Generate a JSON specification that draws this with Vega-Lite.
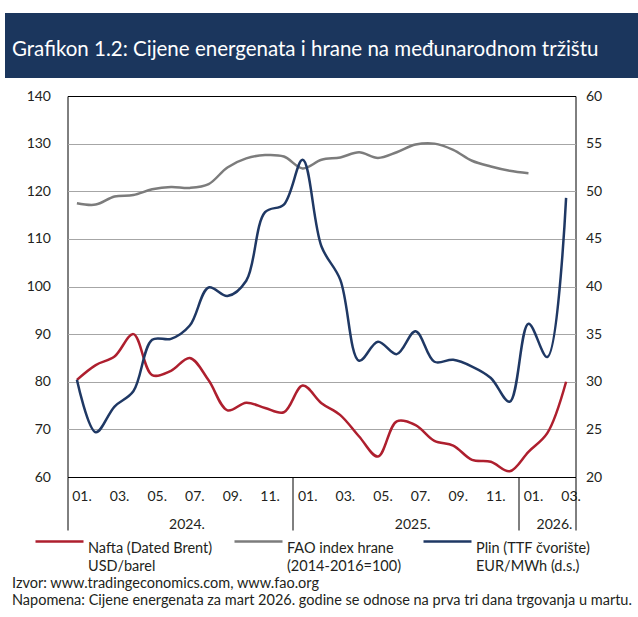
{
  "$schema": "https://vega.github.io/schema/vega-lite/v6.json",
  "padding": {"left": 5, "top": 13, "right": 0, "bottom": 4},
  "background": "white",
  "config": {"font": "Lato", "view": {"stroke": null}},
  "title": {
    "text": ["Izvor: www.tradingeconomics.com, www.fao.org", "Napomena: Cijene energenata za mart 2026. godine se odnose na prva tri dana trgovanja u martu."],
    "orient": "bottom", "anchor": "start", "fontSize": 14.5, "fontWeight": "normal", "color": "#231f20", "lineHeight": 17, "dx": 7, "offset": 4, "font": "Lato"
  },
  "datasets": {
    "series": [
      {"m": "2024-01", "s": "Nafta (Dated Brent)", "v": 80.4},
      {"m": "2024-02", "s": "Nafta (Dated Brent)", "v": 83.5},
      {"m": "2024-03", "s": "Nafta (Dated Brent)", "v": 85.3},
      {"m": "2024-04", "s": "Nafta (Dated Brent)", "v": 90.0},
      {"m": "2024-05", "s": "Nafta (Dated Brent)", "v": 81.4},
      {"m": "2024-06", "s": "Nafta (Dated Brent)", "v": 82.3},
      {"m": "2024-07", "s": "Nafta (Dated Brent)", "v": 85.0},
      {"m": "2024-08", "s": "Nafta (Dated Brent)", "v": 80.3},
      {"m": "2024-09", "s": "Nafta (Dated Brent)", "v": 74.0},
      {"m": "2024-10", "s": "Nafta (Dated Brent)", "v": 75.6},
      {"m": "2024-11", "s": "Nafta (Dated Brent)", "v": 74.5},
      {"m": "2024-12", "s": "Nafta (Dated Brent)", "v": 73.6},
      {"m": "2025-01", "s": "Nafta (Dated Brent)", "v": 79.2},
      {"m": "2025-02", "s": "Nafta (Dated Brent)", "v": 75.5},
      {"m": "2025-03", "s": "Nafta (Dated Brent)", "v": 73.0},
      {"m": "2025-04", "s": "Nafta (Dated Brent)", "v": 68.5},
      {"m": "2025-05", "s": "Nafta (Dated Brent)", "v": 64.3},
      {"m": "2025-06", "s": "Nafta (Dated Brent)", "v": 71.7},
      {"m": "2025-07", "s": "Nafta (Dated Brent)", "v": 70.9},
      {"m": "2025-08", "s": "Nafta (Dated Brent)", "v": 67.6},
      {"m": "2025-09", "s": "Nafta (Dated Brent)", "v": 66.6},
      {"m": "2025-10", "s": "Nafta (Dated Brent)", "v": 63.6},
      {"m": "2025-11", "s": "Nafta (Dated Brent)", "v": 63.2},
      {"m": "2025-12", "s": "Nafta (Dated Brent)", "v": 61.2},
      {"m": "2026-01", "s": "Nafta (Dated Brent)", "v": 65.3},
      {"m": "2026-02", "s": "Nafta (Dated Brent)", "v": 69.2},
      {"m": "2026-03", "s": "Nafta (Dated Brent)", "v": 80.0},
      {"m": "2024-01", "s": "FAO index hrane", "v": 117.5},
      {"m": "2024-02", "s": "FAO index hrane", "v": 117.2},
      {"m": "2024-03", "s": "FAO index hrane", "v": 118.9},
      {"m": "2024-04", "s": "FAO index hrane", "v": 119.2},
      {"m": "2024-05", "s": "FAO index hrane", "v": 120.4},
      {"m": "2024-06", "s": "FAO index hrane", "v": 120.9},
      {"m": "2024-07", "s": "FAO index hrane", "v": 120.7},
      {"m": "2024-08", "s": "FAO index hrane", "v": 121.5},
      {"m": "2024-09", "s": "FAO index hrane", "v": 125.0},
      {"m": "2024-10", "s": "FAO index hrane", "v": 126.9},
      {"m": "2024-11", "s": "FAO index hrane", "v": 127.6},
      {"m": "2024-12", "s": "FAO index hrane", "v": 127.3},
      {"m": "2025-01", "s": "FAO index hrane", "v": 124.8},
      {"m": "2025-02", "s": "FAO index hrane", "v": 126.6},
      {"m": "2025-03", "s": "FAO index hrane", "v": 127.1},
      {"m": "2025-04", "s": "FAO index hrane", "v": 128.2},
      {"m": "2025-05", "s": "FAO index hrane", "v": 127.0},
      {"m": "2025-06", "s": "FAO index hrane", "v": 128.2},
      {"m": "2025-07", "s": "FAO index hrane", "v": 129.8},
      {"m": "2025-08", "s": "FAO index hrane", "v": 130.0},
      {"m": "2025-09", "s": "FAO index hrane", "v": 128.7},
      {"m": "2025-10", "s": "FAO index hrane", "v": 126.4},
      {"m": "2025-11", "s": "FAO index hrane", "v": 125.2},
      {"m": "2025-12", "s": "FAO index hrane", "v": 124.3},
      {"m": "2026-01", "s": "FAO index hrane", "v": 123.8},
      {"m": "2024-01", "s": "Plin (TTF čvorište)", "v": 30.2},
      {"m": "2024-02", "s": "Plin (TTF čvorište)", "v": 24.7},
      {"m": "2024-03", "s": "Plin (TTF čvorište)", "v": 27.4},
      {"m": "2024-04", "s": "Plin (TTF čvorište)", "v": 29.0},
      {"m": "2024-05", "s": "Plin (TTF čvorište)", "v": 34.4},
      {"m": "2024-06", "s": "Plin (TTF čvorište)", "v": 34.5},
      {"m": "2024-07", "s": "Plin (TTF čvorište)", "v": 35.9},
      {"m": "2024-08", "s": "Plin (TTF čvorište)", "v": 39.9},
      {"m": "2024-09", "s": "Plin (TTF čvorište)", "v": 39.0},
      {"m": "2024-10", "s": "Plin (TTF čvorište)", "v": 40.6},
      {"m": "2024-11", "s": "Plin (TTF čvorište)", "v": 47.8},
      {"m": "2024-12", "s": "Plin (TTF čvorište)", "v": 48.6},
      {"m": "2025-01", "s": "Plin (TTF čvorište)", "v": 53.3},
      {"m": "2025-02", "s": "Plin (TTF čvorište)", "v": 44.2},
      {"m": "2025-03", "s": "Plin (TTF čvorište)", "v": 40.7},
      {"m": "2025-04", "s": "Plin (TTF čvorište)", "v": 32.2},
      {"m": "2025-05", "s": "Plin (TTF čvorište)", "v": 34.2},
      {"m": "2025-06", "s": "Plin (TTF čvorište)", "v": 32.9},
      {"m": "2025-07", "s": "Plin (TTF čvorište)", "v": 35.3},
      {"m": "2025-08", "s": "Plin (TTF čvorište)", "v": 32.1},
      {"m": "2025-09", "s": "Plin (TTF čvorište)", "v": 32.3},
      {"m": "2025-10", "s": "Plin (TTF čvorište)", "v": 31.6},
      {"m": "2025-11", "s": "Plin (TTF čvorište)", "v": 30.4},
      {"m": "2025-12", "s": "Plin (TTF čvorište)", "v": 27.9},
      {"m": "2026-01", "s": "Plin (TTF čvorište)", "v": 36.1},
      {"m": "2026-02", "s": "Plin (TTF čvorište)", "v": 32.6},
      {"m": "2026-03", "s": "Plin (TTF čvorište)", "v": 49.3}
    ]
  },
  "spacing": 18,
  "bounds": "flush",
  "center": true,
  "vconcat": [
    {
      "width": 633,
      "height": 65,
      "view": {"fill": "#1b365d", "stroke": null},
      "data": {"values": [{"t": "Grafikon 1.2: Cijene energenata i hrane na međunarodnom tržištu"}]},
      "mark": {"type": "text", "align": "left", "baseline": "middle", "color": "white", "fontSize": 20.5, "dx": 7, "dy": 4, "font": "Lato"},
      "encoding": {
        "text": {"field": "t", "type": "nominal"},
        "x": {"datum": 0, "type": "quantitative", "scale": {"domain": [0, 1]}, "axis": null}
      }
    },
    {
      "width": 508,
      "height": 381,
      "view": {"stroke": "#000", "strokeWidth": 1},
      "data": {"name": "series"},
      "resolve": {"scale": {"y": "independent"}, "axis": {"x": "independent", "y": "independent"}},
      "layer": [
        {
          "transform": [{"filter": "datum.s == 'Nafta (Dated Brent)'"}],
          "mark": {"type": "line", "interpolate": "catmull-rom", "strokeWidth": 2.5},
          "encoding": {
            "x": {
              "field": "m", "type": "ordinal", "bandPosition": 0.5,
              "scale": {"type": "band", "paddingInner": 0, "paddingOuter": 0},
              "axis": {
                "orient": "bottom",
                "values": ["2024-01","2024-03","2024-05","2024-07","2024-09","2024-11","2025-01","2025-03","2025-05","2025-07","2025-09","2025-11","2026-01","2026-03"],
                "labelExpr": "slice(datum.value, 5) + '.'",
                "ticks": false, "domain": false, "grid": false, "title": null, "labelAngle": 0,
                "labelPadding": 12, "labelOffset": 5, "labelFontSize": 14, "labelColor": "#231f20"
              }
            },
            "y": {
              "field": "v", "type": "quantitative",
              "scale": {"domain": [60, 140], "nice": false, "zero": false},
              "axis": {
                "orient": "left", "values": [60, 70, 80, 90, 100, 110, 120, 130, 140],
                "grid": true, "gridColor": "#a6a6a6", "gridWidth": 1,
                "gridOpacity": {"condition": {"test": "datum.value == 60 || datum.value == 140", "value": 0}, "value": 1},
                "ticks": false, "domain": false, "title": null,
                "labelPadding": 17, "labelFontSize": 14, "labelColor": "#231f20"
              }
            },
            "color": {
              "field": "s", "type": "nominal",
              "scale": {"domain": ["Nafta (Dated Brent)", "FAO index hrane", "Plin (TTF čvorište)"], "range": ["#ae1f2e", "#7c7c7c", "#1f3864"]},
              "legend": {
                "orient": "none", "legendX": 29, "legendY": 503, "direction": "horizontal", "title": null,
                "symbolType": "stroke", "symbolSize": 2304, "symbolStrokeWidth": 2.5,
                "labelFontSize": 14.5, "labelColor": "#231f20", "labelOffset": 3, "columnPadding": 16, "labelLimit": 300,
                "labelBaseline": "top",
                "labelExpr": "datum.label == 'Nafta (Dated Brent)' ? ['Nafta (Dated Brent)', 'USD/barel'] : datum.label == 'FAO index hrane' ? ['FAO index hrane', '(2014-2016=100)'] : ['Plin (TTF čvorište)', 'EUR/MWh (d.s.)']",
                "encode": {"labels": {"update": {"lineHeight": {"value": 18}}}}
              }
            }
          }
        },
        {
          "transform": [{"filter": "datum.s == 'FAO index hrane'"}],
          "mark": {"type": "line", "interpolate": "catmull-rom", "strokeWidth": 2.5},
          "encoding": {
            "x": {
              "field": "m", "type": "ordinal", "bandPosition": 0.5,
              "scale": {"type": "band", "paddingInner": 0, "paddingOuter": 0},
              "axis": {
                "orient": "bottom",
                "values": ["2024-01", "2025-01", "2026-01"],
                "bandPosition": 0,
                "ticks": true, "tickSize": 53, "tickColor": "#000", "tickWidth": 1,
                "domain": false, "grid": false, "title": null, "labelAngle": 0,
                "labelExpr": "slice(datum.value, 0, 4) + '.'",
                "labelOffset": {"condition": {"test": "datum.value == '2026-01'", "value": 26}, "value": 110},
                "labelPadding": -13, "labelFontSize": 14, "labelColor": "#231f20"
              }
            },
            "y": {
              "field": "v", "type": "quantitative",
              "scale": {"domain": [60, 140], "nice": false, "zero": false},
              "axis": null
            },
            "color": {
              "field": "s", "type": "nominal",
              "scale": {"domain": ["Nafta (Dated Brent)", "FAO index hrane", "Plin (TTF čvorište)"], "range": ["#ae1f2e", "#7c7c7c", "#1f3864"]},
              "legend": {
                "orient": "none", "legendX": 29, "legendY": 503, "direction": "horizontal", "title": null,
                "symbolType": "stroke", "symbolSize": 2304, "symbolStrokeWidth": 2.5,
                "labelFontSize": 14.5, "labelColor": "#231f20", "labelOffset": 3, "columnPadding": 16, "labelLimit": 300,
                "labelBaseline": "top",
                "labelExpr": "datum.label == 'Nafta (Dated Brent)' ? ['Nafta (Dated Brent)', 'USD/barel'] : datum.label == 'FAO index hrane' ? ['FAO index hrane', '(2014-2016=100)'] : ['Plin (TTF čvorište)', 'EUR/MWh (d.s.)']",
                "encode": {"labels": {"update": {"lineHeight": {"value": 18}}}}
              }
            }
          }
        },
        {
          "transform": [{"filter": "datum.s == 'Plin (TTF čvorište)'"}],
          "mark": {"type": "line", "interpolate": "catmull-rom", "strokeWidth": 2.5},
          "encoding": {
            "x": {
              "field": "m", "type": "ordinal", "bandPosition": 0.5,
              "scale": {"type": "band", "paddingInner": 0, "paddingOuter": 0},
              "axis": {
                "orient": "bottom",
                "values": ["2026-03"],
                "bandPosition": 1,
                "ticks": true, "tickSize": 53, "tickColor": "#000", "tickWidth": 1,
                "labels": false, "domain": false, "grid": false, "title": null
              }
            },
            "y": {
              "field": "v", "type": "quantitative",
              "scale": {"domain": [20, 60], "nice": false, "zero": false},
              "axis": {
                "orient": "right", "values": [20, 25, 30, 35, 40, 45, 50, 55, 60],
                "grid": false, "ticks": false, "domain": false, "title": null,
                "labelPadding": 10, "labelFontSize": 14, "labelColor": "#231f20"
              }
            },
            "color": {
              "field": "s", "type": "nominal",
              "scale": {"domain": ["Nafta (Dated Brent)", "FAO index hrane", "Plin (TTF čvorište)"], "range": ["#ae1f2e", "#7c7c7c", "#1f3864"]},
              "legend": {
                "orient": "none", "legendX": 29, "legendY": 503, "direction": "horizontal", "title": null,
                "symbolType": "stroke", "symbolSize": 2304, "symbolStrokeWidth": 2.5,
                "labelFontSize": 14.5, "labelColor": "#231f20", "labelOffset": 3, "columnPadding": 16, "labelLimit": 300,
                "labelBaseline": "top",
                "labelExpr": "datum.label == 'Nafta (Dated Brent)' ? ['Nafta (Dated Brent)', 'USD/barel'] : datum.label == 'FAO index hrane' ? ['FAO index hrane', '(2014-2016=100)'] : ['Plin (TTF čvorište)', 'EUR/MWh (d.s.)']",
                "encode": {"labels": {"update": {"lineHeight": {"value": 18}}}}
              }
            }
          }
        }
      ]
    }
  ]
}
